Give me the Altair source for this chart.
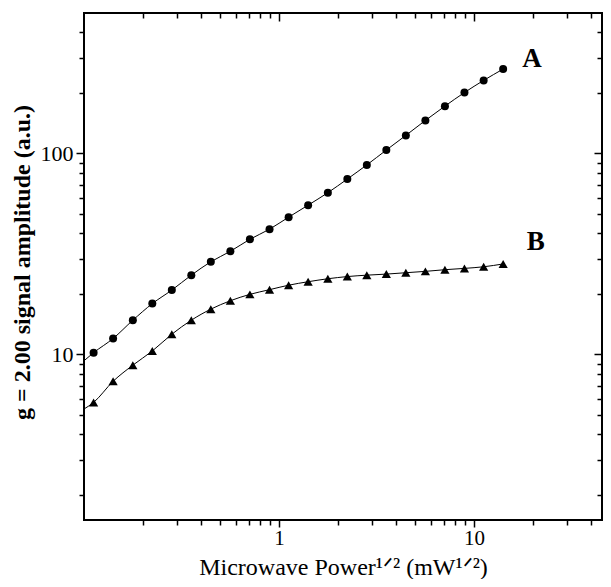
import altair as alt
import pandas as pd

# Microwave Power^1/2 values (mW^1/2)
power_sqrt = [0.112, 0.141, 0.178, 0.224, 0.282, 0.355, 0.447, 0.563, 0.709, 0.894,
              1.12, 1.41, 1.78, 2.24, 2.82, 3.55, 4.47, 5.63, 7.09, 8.93, 11.2, 14.1]
amp_A = [10.2, 12.0, 14.8, 17.9, 20.9, 24.8, 28.9, 32.6, 37.4, 42.0, 48.2,
         55.3, 63.8, 74.6, 87.7, 104, 123, 146, 172, 201, 231, 263]
amp_B = [5.77, 7.35, 8.84, 10.4, 12.6, 14.8, 16.8, 18.5, 19.9, 21.0, 22.1,
         23.0, 23.8, 24.4, 24.8, 25.1, 25.5, 25.9, 26.4, 26.8, 27.3, 28.2]

# fitted curves (start at the left frame)
fit_x = [0.1, 0.112, 0.141, 0.178, 0.224, 0.282, 0.355, 0.447, 0.563, 0.709, 0.894,
         1.12, 1.41, 1.78, 2.24, 2.82, 3.55, 4.47, 5.63, 7.09, 8.93, 11.2, 14.1]
fit_A = [9.3, 10.2, 12.0, 14.8, 17.9, 20.9, 24.8, 28.9, 32.6, 37.4, 42.0, 48.2,
         55.3, 63.8, 74.6, 87.7, 104, 123, 146, 172, 201, 231, 263]
fit_B = [5.35, 5.77, 7.35, 8.84, 10.4, 12.6, 14.8, 16.8, 18.5, 19.9, 21.0, 22.1,
         23.0, 23.8, 24.4, 24.8, 25.1, 25.5, 25.9, 26.4, 26.8, 27.3, 28.2]

label_text = ["A", "B"]
label_x = [19.8, 20.7]
label_y = [296, 36.4]

x_major = [1, 10]
x_minor = [0.2, 0.3, 0.4, 0.5, 0.6, 0.7, 0.8, 0.9, 2, 3, 4, 5, 6, 7, 8, 9, 20, 30, 40]
y_major = [10, 100]
y_minor = [2, 3, 4, 5, 6, 7, 8, 9, 20, 30, 40, 50, 60, 70, 80, 90, 200, 300, 400]

pts_A = pd.DataFrame({"x": power_sqrt, "y": amp_A})
pts_B = pd.DataFrame({"x": power_sqrt, "y": amp_B})
fits = pd.DataFrame({"x": fit_x + fit_x, "y": fit_A + fit_B,
                     "series": ["A"] * len(fit_x) + ["B"] * len(fit_x)})
labels = pd.DataFrame({"x": label_x, "y": label_y, "t": label_text})

xs = alt.Scale(type="log", domain=[0.1, 45.3], nice=False)
ys = alt.Scale(type="log", domain=[1.5, 500], nice=False)

FONT = "Liberation Serif"
common = dict(grid=False, domain=False, tickColor="black", tickWidth=1.5,
              labelColor="black", labelFont=FONT, labelFontSize=22,
              titleFont=FONT, titleColor="black")

lines = alt.Chart(fits).mark_line(color="black", strokeWidth=1, interpolate="monotone").encode(
    x=alt.X("x:Q", scale=xs, axis=alt.Axis(
        orient="bottom", values=x_major, tickSize=7, labelPadding=0, format="~g",
        labelOverlap=False, labelFlush=False,
        title="Microwave Power¹ᐟ² (mW¹ᐟ²)", titleFontSize=24, titleFontWeight="normal",
        titleY=54, titleBaseline="alphabetic",
        **{**common, "labelFontSize": 21})),
    y=alt.Y("y:Q", scale=ys, axis=alt.Axis(
        orient="left", values=y_major, tickSize=8, labelPadding=3, format="~g",
        labelOverlap=False, labelFlush=False,
        title="g = 2.00 signal amplitude  (a.u.)", titleFontSize=24, titleFontWeight="bold",
        titlePadding=6, titleY=249, **common)),
    detail="series:N",
)

circles = alt.Chart(pts_A).mark_point(shape="circle", filled=True, size=64, color="black", opacity=1).encode(
    x=alt.X("x:Q", scale=xs, axis=alt.Axis(orient="bottom", values=x_minor, tickSize=5,
                                          labels=False, title=None, **common)),
    y=alt.Y("y:Q", scale=ys, axis=alt.Axis(orient="left", values=y_minor, tickSize=5,
                                          labels=False, title=None, **common)),
)

triangles = alt.Chart(pts_B).mark_point(shape="triangle-up", filled=True, size=85, color="black", opacity=1).encode(
    x=alt.X("x:Q", scale=xs, axis=alt.Axis(orient="top", values=x_major, tickSize=8, offset=-8,
                                          labels=False, title=None, **common)),
    y=alt.Y("y:Q", scale=ys, axis=alt.Axis(orient="right", values=y_major, tickSize=8, offset=-8,
                                          labels=False, title=None, **common)),
)

texts = alt.Chart(labels).mark_text(font=FONT, fontSize=27, fontWeight="bold", color="black",
                                    baseline="middle", align="center").encode(
    x=alt.X("x:Q", scale=xs, axis=alt.Axis(orient="top", values=x_minor, tickSize=5, offset=-5,
                                          labels=False, title=None, **common)),
    y=alt.Y("y:Q", scale=ys, axis=alt.Axis(orient="right", values=y_minor, tickSize=5, offset=-5,
                                          labels=False, title=None, **common)),
    text="t:N",
)

chart = alt.layer(lines, circles, triangles, texts).resolve_axis(
    x="independent", y="independent"
).properties(
    width=518, height=507,
    autosize=alt.AutoSizeParams(type="none"),
    padding={"left": 76, "top": 5, "right": 1, "bottom": 59},
    background="white",
).configure_view(stroke="black", strokeWidth=2)

chart.save("out.html", embed_options={"renderer": "svg", "actions": False})
